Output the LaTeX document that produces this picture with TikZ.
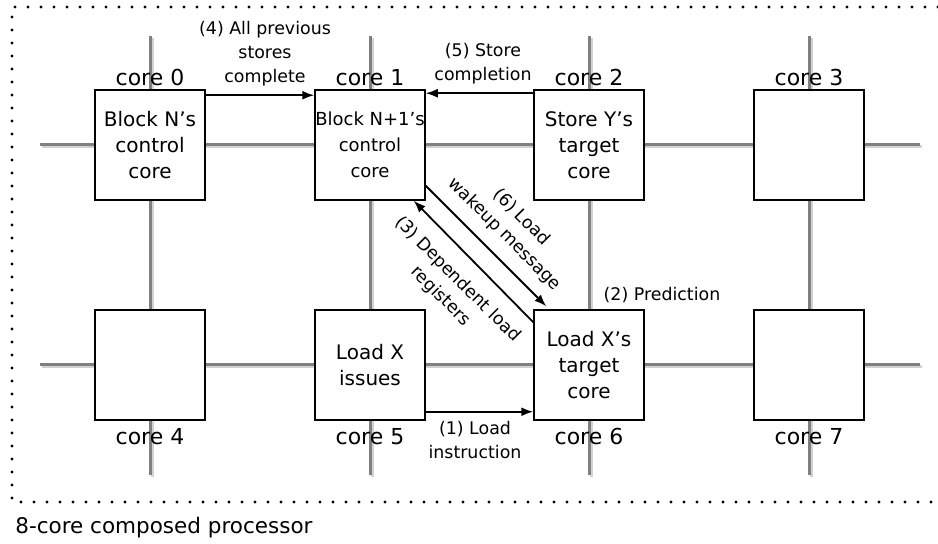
\documentclass[tikz,border=0pt]{standalone}
\usepackage{fontspec}
\setmainfont{DejaVu Sans}
\usetikzlibrary{positioning,arrows.meta}

\tikzset{
  core/.style={draw, fill=white, line width=0.75pt, minimum size=55pt, inner sep=0pt,
    align=center, font=\fontsize{10}{13}\selectfont},
  corename/.style={inner sep=0pt, font=\fontsize{11}{13}\selectfont},
  msg/.style={align=center, inner sep=0pt, font=\fontsize{8.7}{12}\selectfont},
  wire/.style={gray, line width=1.5pt},
  wireshadow/.style={gray!35, line width=1.5pt},
  link/.style={-{Latex[length=6pt,width=4.5pt]}, line width=0.9pt},
  dotframe/.style={line width=1.7pt, line cap=round, dash pattern=on 0pt off 6.5pt},
}

\begin{document}
\begin{tikzpicture}[x=0.5pt,y=0.5pt]
\useasboundingbox (0,0) rectangle (938,544);

% contorno
\draw[dotframe] (938,537) -- (12,537) -- (12,42) -- (938,42);

% rede
\foreach \y in {399,179}
{
    \draw[wireshadow] (42,\y-2) -- (922,\y-2);
    \draw[wire] (40,\y) -- (920,\y);
}
\foreach \x in {150,370,589,809}
{
    \draw[wireshadow] (\x+2,506) -- (\x+2,67);
    \draw[wire] (\x,508) -- (\x,69);
}

% cores
\node[core] (core0) at (150,399) {Block N’s\\control\\core};
\node[core, font=\fontsize{9}{13}\selectfont] (core1) at (370,399) {Block N+1’s\\control\\core};
\node[core] (core2) at (589,399) {Store Y’s\\target\\core};
\node[core] (core3) at (809,399) {};
\node[core] (core4) at (150,179) {};
\node[core] (core5) at (370,179) {Load X\\issues};
\node[core] (core6) at (589,179) {Load X’s\\target\\core};
\node[core] (core7) at (809,179) {};

% nomes
\foreach \i in {0,...,3}
    \node[corename, above=1.5pt of core\i] (name\i) {core \i};
\foreach \i in {4,...,7}
    \node[corename, below=3.5pt of core\i] (name\i) {core \i};

% mensagens
\draw[link] ([yshift=4.5pt]core5.south east) -- ([yshift=4.5pt]core6.south west);
\draw[link] ([yshift=-6.5pt]core6.north west) -- ([xshift=-6pt]core1.south east);
\draw[link] ([yshift=-3pt]core0.north east) -- ([yshift=-3pt]core1.north west);
\draw[link] ([yshift=-2pt]core2.north west) -- ([yshift=-2pt]core1.north east);
\draw[link] ([yshift=7.5pt]core1.south east) -- ([xshift=6.5pt,yshift=1.5pt]core6.north west);

\node[msg] (msg1) at (475,104) {(1) Load\\instruction};
\node[msg] (msg2) at (662,249) {(2) Prediction};
\node[msg, rotate=-45] (msg3) at (449,256) {(3) Dependent load\\registers};
\node[msg] (msg4) at (265,490) {(4) All previous\\stores\\complete};
\node[msg] (msg5) at (483,480) {(5) Store\\completion};
\node[msg, rotate=-45] (msg6) at (513,318) {(6) Load\\wakeup message};

% legenda
\node[anchor=west, inner sep=0pt, font=\fontsize{10.75}{13}\selectfont] (caption) at (15,16) {8-core composed processor};

\end{tikzpicture}
\end{document}
